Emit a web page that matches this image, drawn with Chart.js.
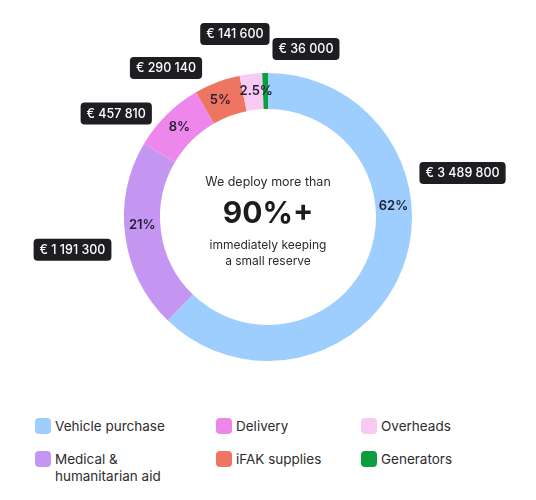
<!DOCTYPE html>
<html>
<head>
<meta charset="utf-8">
<script src="https://cdn.jsdelivr.net/npm/chart.js@4/dist/chart.umd.min.js"></script>
<style>
  body { margin: 0; background: #fff; font-family: Inter, "Noto Sans", sans-serif; }
  #wrap { position: relative; width: 536px; height: 500px; }
  #budget { position: absolute; left: 0; top: 0; }
  #legend {
    position: absolute; left: 35px; top: 418px;
    display: grid; grid-template-rows: auto auto; grid-auto-flow: column;
    grid-template-columns: 181px 145px 140px; row-gap: 16px;
  }
  .item { display: flex; align-items: flex-start; font-size: 13.5px; line-height: 17px; color: #2d2d2d; }
  .swatch { width: 16px; height: 16px; border-radius: 4px; margin-right: 4px; flex: none; }
  .item span { max-width: 130px; }
</style>
</head>
<body>
<div id="wrap">
  <canvas id="budget" width="536" height="400"></canvas>
  <div id="legend"></div>
</div>
<script>
const categories = ['Vehicle purchase', 'Medical & humanitarian aid', 'Delivery', 'iFAK supplies', 'Overheads', 'Generators'];
const amounts = [3489800, 1191300, 457810, 290140, 141600, 36000];
const colors = ['#9dcefd', '#c496f1', '#ee87ec', '#ef7563', '#f7caf3', '#0a9e3f'];

// подписи суммы снаружи, сдвиг по углу (градусы) и зазор от кольца
const calloutShift = [-34.8, -1.8, -11, -13.7, -3.4, 13.9];
const calloutGap = [11, 14, 4, 7, 25, 10];
// сдвиг процентов внутри кольца
const pctShift = [-27, 4, 0, -1.5, 1.5, 0];

const total = amounts.reduce((a, b) => a + b, 0);

function euro(v) {
  return '€ ' + String(v).replace(/\B(?=(\d{3})+(?!\d))/g, ' ');
}

function pctText(v) {
  const p = v / total * 100;
  if (p >= 5) return Math.round(p) + '%';
  if (p >= 1) return p.toFixed(1) + '%';
  return '';
}

const labelsPlugin = {
  id: 'donutLabels',
  afterDatasetsDraw(chart) {
    const ctx = chart.ctx;
    const arcs = chart.getDatasetMeta(0).data;
    ctx.save();
    arcs.forEach((arc, i) => {
      const { x, y, startAngle, endAngle, innerRadius, outerRadius } = arc.getProps(['x', 'y', 'startAngle', 'endAngle', 'innerRadius', 'outerRadius'], true);
      const mid = (startAngle + endAngle) / 2;

      // процент внутри
      const txt = pctText(amounts[i]);
      if (txt) {
        const a = mid + pctShift[i] * Math.PI / 180;
        const r = (innerRadius + outerRadius) / 2;
        ctx.font = '600 13px Inter, sans-serif';
        ctx.fillStyle = '#241c30';
        ctx.textAlign = 'center';
        ctx.textBaseline = 'middle';
        ctx.fillText(txt, x + Math.cos(a) * r, y + Math.sin(a) * r);
      }

      // плашка с суммой
      const label = euro(amounts[i]);
      ctx.font = '500 12.5px Inter, sans-serif';
      const w = ctx.measureText(label).width + 12;
      const h = 22;
      const a = mid + calloutShift[i] * Math.PI / 180;
      const ux = Math.cos(a), uy = Math.sin(a);
      const d = outerRadius + calloutGap[i] + Math.abs(ux) * w / 2 + Math.abs(uy) * h / 2;
      const cx = x + ux * d, cy = y + uy * d;
      ctx.fillStyle = '#1d1d22';
      ctx.beginPath();
      ctx.roundRect(cx - w / 2, cy - h / 2, w, h, 4);
      ctx.fill();
      ctx.fillStyle = '#fff';
      ctx.textAlign = 'center';
      ctx.textBaseline = 'middle';
      ctx.fillText(label, cx, cy + 0.5);
    });

    // текст в центре
    const cx = arcs[0].x, cy = arcs[0].y;
    ctx.fillStyle = '#2b2b2b';
    ctx.textAlign = 'center';
    ctx.textBaseline = 'middle';
    ctx.font = '12.5px Inter, sans-serif';
    ctx.fillText('We deploy more than', cx, cy - 35);
    ctx.fillStyle = '#1c1c1c';
    ctx.font = '700 30px Inter, sans-serif';
    ctx.fillText('90%+', cx, cy - 3);
    ctx.fillStyle = '#2b2b2b';
    ctx.font = '12px Inter, sans-serif';
    ctx.fillText('immediately keeping', cx, cy + 28);
    ctx.fillText('a small reserve', cx, cy + 44);
    ctx.restore();
  }
};

new Chart(document.getElementById('budget'), {
  type: 'doughnut',
  data: {
    labels: categories,
    datasets: [{
      data: amounts,
      backgroundColor: colors,
      borderWidth: 0
    }]
  },
  options: {
    responsive: false,
    animation: false,
    cutout: '75%',
    layout: { padding: { top: 73, bottom: 39 } },
    plugins: {
      legend: { display: false },
      tooltip: { enabled: false }
    }
  },
  plugins: [labelsPlugin]
});

// легенда
const legend = document.getElementById('legend');
categories.forEach((c, i) => {
  const el = document.createElement('div');
  el.className = 'item';
  el.innerHTML = `<div class="swatch" style="background:${colors[i]}"></div><span></span>`;
  el.querySelector('span').textContent = c;
  legend.appendChild(el);
});
</script>
</body>
</html>
